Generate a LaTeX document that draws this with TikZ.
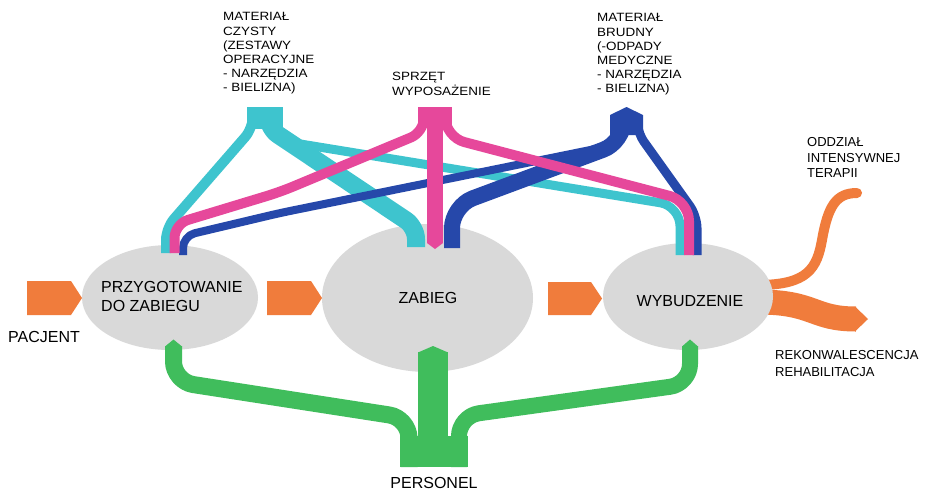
\documentclass[tikz,border=0pt]{standalone}
\usepackage{fontspec}
\setmainfont{Liberation Sans}
\newfontfamily\topfont[FakeStretch=1.12]{Liberation Sans}
\usetikzlibrary{shapes.geometric}
\definecolor{cyanc}{RGB}{62,196,206}
\definecolor{pinkc}{RGB}{230,72,155}
\definecolor{bluec}{RGB}{38,72,170}
\definecolor{greenc}{RGB}{64,189,92}
\definecolor{orangec}{RGB}{240,124,60}
\definecolor{grayc}{RGB}{217,217,217}
\begin{document}
\begin{tikzpicture}[x=1pt,y=-1pt,
  blob/.style={ellipse,fill=grayc,inner sep=0},
  lbl/.style={inner sep=0,align=left,anchor=north west},
  toplbl/.style={lbl,font=\topfont\fontsize{12}{14.2}\selectfont},
  sidelbl/.style={lbl,font=\fontsize{13}{15.5}\selectfont},
  biglbl/.style={inner sep=0,font=\fontsize{16}{19}\selectfont},
  ribbon/.style={line cap=butt,line join=round},
  flowarrow/.style={fill=orangec}]
\useasboundingbox (0,0) rectangle (928,491);
\fill[white] (0,0) rectangle (928,491);

% orange outputs (under the ellipse)
\coordinate (ictop) at (857,193);
\coordinate (rehab) at (856,319);
\draw[orangec,line cap=round,line width=10] (758,285) .. controls (808,285) and (817,268) .. (822,240) .. controls (828,206) and (836,193) .. (ictop);
\draw[orangec,ribbon,line width=25] (758,302) .. controls (815,302) and (812,319) .. (rehab);
\fill[orangec] (855,306.5) -- (868,319) -- (855,331.5) -- cycle;

% ellipses
\node[blob,minimum width=176,minimum height=105] (prep) at (170,297.5) {};
\node[blob,minimum width=211,minimum height=148] (zab) at (427.5,298) {};
\node[blob,minimum width=170,minimum height=107] (wyb) at (688,296.5) {};

% orange flow arrows
\fill[flowarrow] (27,281) -- (71,281) -- (82,298) -- (71,315) -- (27,315) -- cycle;
\fill[flowarrow] (267,281) -- (311,281) -- (322,298) -- (311,315) -- (267,315) -- cycle;
\fill[flowarrow] (548,282) -- (591,282) -- (602,298.5) -- (591,315) -- (548,315) -- cycle;

% green personnel
\fill[greenc] (400,436) rectangle (468,467);
\draw[greenc,ribbon,line width=17,rounded corners=20] (173.5,346) -- (173.5,381.5) -- (409,418) -- (409,467);
\draw[greenc,ribbon,line width=16,rounded corners=20] (690,346) -- (690,384) -- (459,416) -- (459,467);
\draw[greenc,ribbon,line width=30] (433,352) -- (433,467);
\fill[greenc] (165,346.5) -- (173.5,339.5) -- (182,346.5) -- cycle;
\fill[greenc] (418,352.5) -- (433,346) -- (448,352.5) -- cycle;
\fill[greenc] (682,346.5) -- (690,339.5) -- (698,346.5) -- cycle;

% cyan: clean material
\fill[cyanc] (247,107) rectangle (283,129);
\draw[cyanc,ribbon,line width=10,rounded corners=12] (253,108) -- (253,128) -- (166,228) -- (166,253);
\draw[cyanc,ribbon,line width=18,rounded corners=12] (268,108) -- (268,128) -- (416,227) -- (416,247);
\draw[cyanc,ribbon,line width=9,rounded corners=20] (276,108) -- (276,140) -- (680,206) -- (680,255);

% blue: dirty material
\fill[bluec] (610,135) -- (610,115) -- (626.5,107) -- (643,115) -- (643,135) -- cycle;
\draw[bluec,ribbon,line width=8,rounded corners=12] (615,118) -- (615,145) -- (280,213) -- (183,236) -- (183,255);
\draw[bluec,ribbon,line width=16,rounded corners=22] (624,114) -- (624,142) -- (452,206) -- (452,248);
\draw[bluec,ribbon,line width=9,rounded corners=12] (637,118) -- (637,132) -- (697,216) -- (697,255);

% pink: equipment
\fill[pinkc] (418,107) rectangle (452,128);
\draw[pinkc,ribbon,line width=10,rounded corners=14] (424,108) -- (424,132) -- (280,192) -- (174.5,224) -- (174.5,253);
\draw[pinkc,ribbon,line width=10,rounded corners=20] (445,108) -- (445,137) -- (689,201) -- (689,255);
\draw[pinkc,ribbon,line width=16] (435,108) -- (435,243);
\fill[pinkc] (427,243) -- (435,249) -- (443,243) -- cycle;

% labels
\node[toplbl] (clean) at (223,12.4) {MATERIAŁ\\CZYSTY\\(ZESTAWY\\OPERACYJNE\\- NARZĘDZIA\\- BIELIZNA)};
\node[toplbl] (equip) at (392,72.4) {SPRZĘT\\WYPOSAŻENIE};
\node[toplbl] (dirty) at (597,13.4) {MATERIAŁ\\BRUDNY\\(-ODPADY\\MEDYCZNE\\- NARZĘDZIA\\- BIELIZNA)};
\node[sidelbl] (icu) at (807,137.7) {ODDZIAŁ\\INTENSYWNEJ\\TERAPII};
\node[lbl,font=\fontsize{13}{17}\selectfont] (rek) at (775,350.7) {REKONWALESCENCJA\\REHABILITACJA};
\node[lbl,font=\fontsize{16}{19}\selectfont] (preptxt) at (101,281.5) {PRZYGOTOWANIE\\DO ZABIEGU};
\node[biglbl,anchor=base] (zabtxt) at (428,303) {ZABIEG};
\node[biglbl,anchor=base] (wybtxt) at (690,306) {WYBUDZENIE};
\node[biglbl,anchor=base west] (pac) at (8,342) {PACJENT};
\node[biglbl,anchor=base] (pers) at (434,488) {PERSONEL};
\end{tikzpicture}
\end{document}
